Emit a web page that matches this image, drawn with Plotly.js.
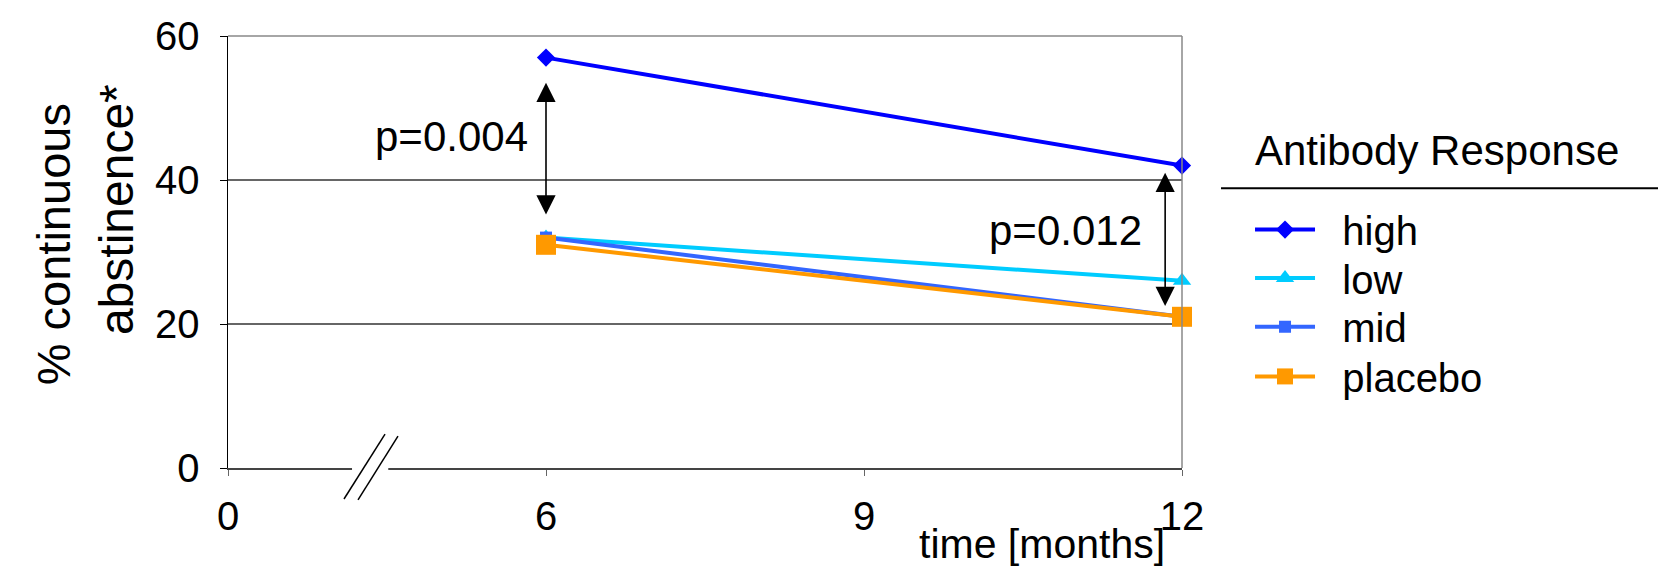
<!DOCTYPE html>
<html>
<head>
<meta charset="utf-8">
<script src="https://cdn.plot.ly/plotly-3.0.1.min.js"></script>
<style>html,body{margin:0;padding:0;background:#fff;}#chart{width:1658px;height:566px;}</style>
</head>
<body>
<div id="chart"></div>
<script>
// Categories of the (broken) time axis, in months
const timeCategories = ['0', '6', '9', '12'];
const measuredTimes = ['6', '12'];

// % continuous abstinence per antibody response group
const highValues = [57, 42];
const lowValues = [32, 26];
const midValues = [32, 21];
const placeboValues = [31, 21];

const seriesNames = ['high', 'low', 'mid', 'placebo'];
const legendTitle = 'Antibody Response';
const yTickValues = [0, 20, 40, 60];
const yTickLabels = ['0', '20', '40', '60'];

// p-value labels
const pLabels = ['p=0.004', 'p=0.012'];

const FONT = 'Liberation Sans, Arial, sans-serif';
const GAP = '\u00A0\u00A0';

const traces = [
  {name: GAP + seriesNames[0], legend: 'legend', x: measuredTimes, y: highValues, mode: 'lines+markers', cliponaxis: false,
   line: {color: '#0000FF', width: 4}, marker: {symbol: 'diamond', size: 14, color: '#0000FF'}},
  {name: GAP + seriesNames[1], legend: 'legend2', x: measuredTimes, y: lowValues, mode: 'lines+markers', cliponaxis: false,
   line: {color: '#00CCFF', width: 4}, marker: {symbol: 'triangle-up', size: 16, color: '#00CCFF'}},
  {name: GAP + seriesNames[2], legend: 'legend3', x: measuredTimes, y: midValues, mode: 'lines+markers', cliponaxis: false,
   line: {color: '#3366FF', width: 4}, marker: {symbol: 'square', size: 12, color: '#3366FF'}},
  {name: GAP + seriesNames[3], legend: 'legend4', x: measuredTimes, y: placeboValues, mode: 'lines+markers', cliponaxis: false,
   line: {color: '#FF9900', width: 4}, marker: {symbol: 'square', size: 20, color: '#FF9900'}}
];

const annotations = [
  // double-headed arrows
  {x: 1, y: 35.2, ax: 1, ay: 53.7, xref: 'x', yref: 'y', axref: 'x', ayref: 'y',
   text: '', showarrow: true, arrowside: 'end+start', arrowhead: 2, arrowsize: 2.4, arrowwidth: 1.6, arrowcolor: '#000'},
  {x: 2.947, y: 22.5, ax: 2.947, ay: 41.2, xref: 'x', yref: 'y', axref: 'x', ayref: 'y',
   text: '', showarrow: true, arrowside: 'end+start', arrowhead: 2, arrowsize: 2.4, arrowwidth: 1.6, arrowcolor: '#000'},
  {x: 0.95, y: 46.1, xref: 'x', yref: 'y', text: pLabels[0], showarrow: false,
   xanchor: 'right', yanchor: 'middle', font: {family: FONT, size: 42, color: '#000'}},
  {x: 2.88, y: 33, xref: 'x', yref: 'y', text: pLabels[1], showarrow: false,
   xanchor: 'right', yanchor: 'middle', font: {family: FONT, size: 42, color: '#000'}},
  // y-axis title lines
  {x: -0.1834, y: 0.518, xref: 'paper', yref: 'paper', text: '% continuous', textangle: -90,
   showarrow: false, xanchor: 'center', yanchor: 'middle', font: {family: FONT, size: 47, color: '#000'}},
  {x: -0.1174, y: 0.597, xref: 'paper', yref: 'paper', text: 'abstinence*', textangle: -90,
   showarrow: false, xanchor: 'center', yanchor: 'middle', font: {family: FONT, size: 48, color: '#000'}},
  // x-axis title
  {x: 0.984, y: -0.176, xref: 'paper', yref: 'paper', text: 'time [months]', showarrow: false,
   xanchor: 'right', yanchor: 'middle', font: {family: FONT, size: 41, color: '#000'}},
  // legend title
  {x: 1.0744, y: 0.736, xref: 'paper', yref: 'paper', text: legendTitle, showarrow: false,
   xanchor: 'left', yanchor: 'middle', font: {family: FONT, size: 42, color: '#000'}}
];

const shapes = [
  // top and right frame
  {type: 'line', xref: 'paper', yref: 'paper', x0: 0, x1: 1, y0: 1, y1: 1, line: {color: '#888', width: 1.5}},
  {type: 'line', xref: 'paper', yref: 'paper', x0: 1, x1: 1, y0: 0, y1: 1, line: {color: '#888', width: 1.5}},
  // axis break gap and marks
  {type: 'rect', xref: 'paper', yref: 'paper', x0: 0.130, x1: 0.168, y0: -0.008, y1: 0.008,
   fillcolor: '#fff', line: {width: 0}, layer: 'above'},
  {type: 'line', xref: 'paper', yref: 'paper', x0: 0.1216, x1: 0.1646, y0: -0.0717, y1: 0.0786,
   line: {color: '#000', width: 1.5}, layer: 'above'},
  {type: 'line', xref: 'paper', yref: 'paper', x0: 0.1363, x1: 0.1782, y0: -0.074, y1: 0.074,
   line: {color: '#000', width: 1.5}, layer: 'above'},
  // legend title underline
  {type: 'line', xref: 'paper', yref: 'paper', x0: 1.0409, x1: 1.499, y0: 0.6477, y1: 0.6477,
   line: {color: '#000', width: 2}}
];

function legendAt(yPaper) {
  return {
    x: 1.0713, xanchor: 'left', y: yPaper, yanchor: 'middle',
    font: {family: FONT, size: 40, color: '#000'},
    itemwidth: 60, bgcolor: 'rgba(0,0,0,0)', borderwidth: 0
  };
}

const layout = {
  width: 1658, height: 566,
  margin: {l: 228, r: 476, t: 36, b: 98, pad: 0},
  paper_bgcolor: '#fff', plot_bgcolor: '#fff',
  font: {family: FONT, color: '#000'},
  showlegend: true,
  legend: legendAt(0.552),
  legend2: legendAt(0.4398),
  legend3: legendAt(0.327),
  legend4: legendAt(0.212),
  xaxis: {
    type: 'category', categoryorder: 'array', categoryarray: timeCategories,
    range: [0, 3], showgrid: false, zeroline: false,
    showline: true, linecolor: '#444', linewidth: 1.5,
    ticks: 'outside', ticklen: 6, tickcolor: '#666', tickwidth: 1,
    tickfont: {family: FONT, size: 40, color: '#000'}, ticklabelstandoff: 6,
    fixedrange: true
  },
  yaxis: {
    range: [0, 60], tickvals: yTickValues, ticktext: yTickLabels,
    showgrid: true, gridcolor: '#666', gridwidth: 1.2, zeroline: false,
    showline: true, linecolor: '#000', linewidth: 1.5,
    ticks: 'outside', ticklen: 7, tickcolor: '#000', tickwidth: 1,
    tickfont: {family: FONT, size: 40, color: '#000'}, ticklabelstandoff: 12,
    fixedrange: true
  },
  annotations: annotations,
  shapes: shapes
};

Plotly.newPlot('chart', traces, layout, {displayModeBar: false, staticPlot: true});
</script>
</body>
</html>
